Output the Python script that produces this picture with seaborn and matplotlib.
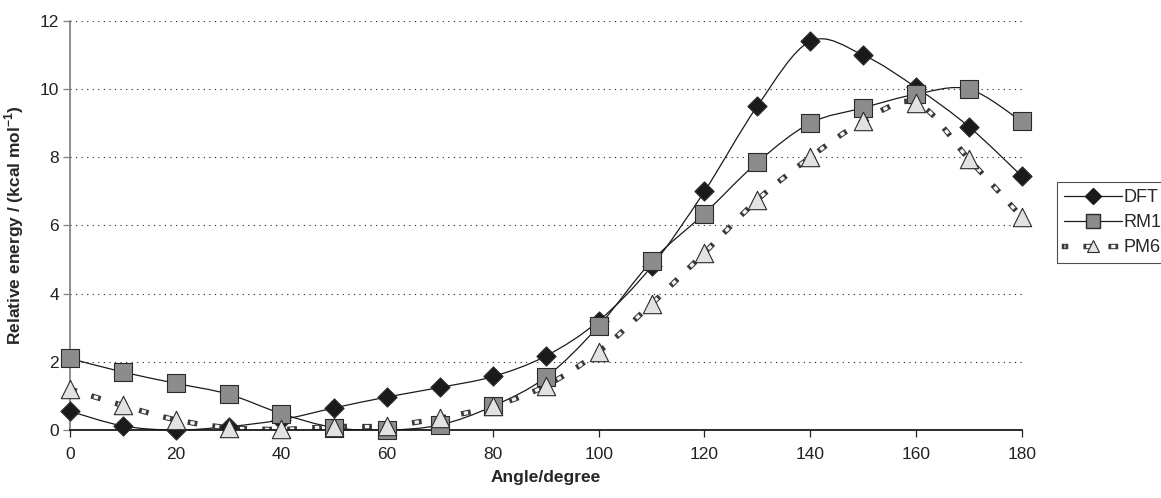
import numpy as np
import pandas as pd
import matplotlib
matplotlib.use("Agg")
import matplotlib.pyplot as plt
import seaborn as sns
from matplotlib.path import Path
from matplotlib.patches import PathPatch
from matplotlib.lines import Line2D
import matplotlib.patheffects as pe

# data
angles = [0, 10, 20, 30, 40, 50, 60, 70, 80, 90, 100, 110, 120, 130, 140, 150, 160, 170, 180]
dft = [0.55, 0.12, 0.0, 0.1, 0.3, 0.65, 0.97, 1.25, 1.57, 2.17, 3.2, 4.8, 7.0, 9.5, 11.4, 11.0, 10.05, 8.9, 7.45]
rm1 = [2.1, 1.7, 1.37, 1.05, 0.48, 0.07, 0.0, 0.15, 0.7, 1.55, 3.05, 4.95, 6.35, 7.85, 9.0, 9.45, 9.85, 10.0, 9.05]
pm6 = [1.2, 0.72, 0.3, 0.07, 0.02, 0.1, 0.12, 0.35, 0.7, 1.3, 2.3, 3.7, 5.2, 6.75, 8.0, 9.05, 9.6, 7.95, 6.25]
methods = ["DFT", "RM1", "PM6"]

df = pd.DataFrame({"angle": angles * 3,
                   "energy": dft + rm1 + pm6,
                   "method": [m for m in methods for _ in angles]})

sns.set_theme(style="white")
plt.rcParams['font.family'] = ['Liberation Sans', 'DejaVu Sans']
plt.rcParams['mathtext.fontset'] = 'custom'
plt.rcParams['mathtext.bf'] = 'Liberation Sans:bold'
plt.rcParams['mathtext.rm'] = 'Liberation Sans:bold'


def smooth_path(xs, ys):
    # excel-style smoothed line: bezier segments through the data points
    pts = np.column_stack([xs, ys]).astype(float)
    verts = [pts[0]]
    codes = [Path.MOVETO]
    n = len(pts)
    for i in range(n - 1):
        p0 = pts[i - 1] if i > 0 else pts[i]
        p1, p2 = pts[i], pts[i + 1]
        p3 = pts[i + 2] if i + 2 < n else pts[i + 1]
        verts += [p1 + (p2 - p0) / 6, p2 - (p3 - p1) / 6, p2]
        codes += [Path.CURVE4] * 3
    return Path(verts, codes)


# dashed pm6 line: short light dashes with a dark outline
dash_style = (0, (1.3, 6.2))
dash_fx = [pe.Stroke(linewidth=3.9, foreground="#3a3a3a", capstyle="projecting"), pe.Normal()]

fig = plt.figure(figsize=(11.61, 4.98), dpi=100)
ax = fig.add_axes([0.0603, 0.1365, 0.8197, 0.8215])

# curves
ax.add_patch(PathPatch(smooth_path(angles, dft), fill=False, lw=0.9, edgecolor="#1a1a1a", zorder=2))
ax.add_patch(PathPatch(smooth_path(angles, rm1), fill=False, lw=0.9, edgecolor="#1a1a1a", zorder=2))
pm6_patch = PathPatch(smooth_path(angles, pm6), fill=False, lw=2.4, edgecolor="#f6f6f6",
                      linestyle=dash_style, zorder=2, capstyle="butt")
pm6_patch.set_path_effects(dash_fx)
ax.add_patch(pm6_patch)

# markers
styles = {"DFT": ("D", "#1a1a1a", 95), "RM1": ("s", "#8c8c8c", 155), "PM6": ("^", "#e2e2e2", 175)}
for m in methods:
    mk, col, sz = styles[m]
    sns.scatterplot(data=df[df["method"] == m], x="angle", y="energy", marker=mk, s=sz,
                    color=col, edgecolor="#2a2a2a", linewidth=0.8, ax=ax, zorder=3,
                    clip_on=False, legend=False)

ax.set_xlim(0, 180)
ax.set_ylim(0, 12)
ax.set_xticks(range(0, 181, 20))
ax.set_yticks(range(0, 13, 2))
ax.yaxis.grid(True, linestyle=(0, (1, 4)), color="#222222", linewidth=0.8)
ax.set_axisbelow(True)
for s in ["top", "right"]:
    ax.spines[s].set_visible(False)
ax.spines["left"].set_color("#808080")
ax.spines["bottom"].set_color("#111111")
ax.tick_params(axis="both", direction="out", length=5, width=0.9, labelsize=12.5,
               left=True, bottom=True, colors="#222222")
ax.tick_params(axis="y", color="#808080", pad=3)
ax.tick_params(axis="x", pad=7)

ax.set_xlabel("Angle/degree", fontsize=12.5, fontweight="bold", labelpad=6)
ax.set_ylabel(r"Relative energy / (kcal mol$^{\mathbf{-1}}$)", fontsize=12.5,
              fontweight="bold", labelpad=10)

dash_handle = Line2D([], [], color="#f6f6f6", lw=2.4, linestyle=(1, (1.3, 6.2)), path_effects=dash_fx)
tri_handle = Line2D([], [], linestyle="none", marker="^", markersize=9,
                    markerfacecolor="#e2e2e2", markeredgecolor="#2a2a2a", markeredgewidth=0.8)
handles = [
    Line2D([], [], color="#1a1a1a", lw=0.9, marker="D", markersize=8,
           markerfacecolor="#1a1a1a", markeredgecolor="#1a1a1a"),
    Line2D([], [], color="#1a1a1a", lw=0.9, marker="s", markersize=10,
           markerfacecolor="#8c8c8c", markeredgecolor="#2a2a2a"),
    (dash_handle, tri_handle),
]
leg = fig.legend(handles, methods, loc="upper left", bbox_to_anchor=(0.910, 0.635),
                 frameon=True, fancybox=False, fontsize=13, handlelength=3.2,
                 handletextpad=0.1, borderpad=0.4, labelspacing=0.45, borderaxespad=0)
leg.get_frame().set_edgecolor("#222222")
leg.get_frame().set_linewidth(0.8)

fig.savefig("out.png", dpi=100)
